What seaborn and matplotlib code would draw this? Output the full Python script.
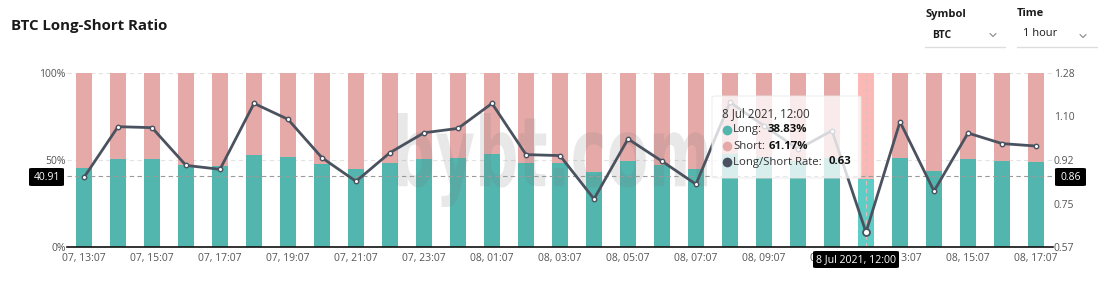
import numpy as np
import pandas as pd
import matplotlib
matplotlib.use("Agg")
import matplotlib.pyplot as plt
import seaborn as sns
from matplotlib.patches import FancyBboxPatch, PathPatch
from matplotlib.textpath import TextPath
from matplotlib.font_manager import FontProperties
from matplotlib.transforms import Affine2D
from matplotlib.lines import Line2D

# ---------------- data ----------------
time_labels = [
    "07, 13:07", "07, 14:07", "07, 15:07", "07, 16:07", "07, 17:07", "07, 18:07",
    "07, 19:07", "07, 20:07", "07, 21:07", "07, 22:07", "07, 23:07", "08, 00:07",
    "08, 01:07", "08, 02:07", "08, 03:07", "08, 04:07", "08, 05:07", "08, 06:07",
    "08, 07:07", "08, 08:07", "08, 09:07", "08, 10:07", "08, 11:07", "08, 12:07",
    "08, 13:07", "08, 14:07", "08, 15:07", "08, 16:07", "08, 17:07",
]
long_pct = [45.6, 50.8, 50.8, 46.9, 46.5, 53.0, 51.7, 47.9, 45.0, 48.5,
            50.4, 51.0, 53.3, 48.5, 48.1, 42.9, 49.6, 47.1, 44.7, 53.5,
            51.5, 49.2, 51.0, 38.83, 51.3, 43.9, 50.4, 49.4, 49.0]
short_pct = [round(100 - v, 2) for v in long_pct]
ls_ratio = [0.854, 1.061, 1.057, 0.903, 0.887, 1.156, 1.091, 0.934, 0.838, 0.955,
            1.036, 1.054, 1.156, 0.947, 0.943, 0.766, 1.011, 0.920, 0.826, 1.160,
            1.065, 0.969, 1.045, 0.63, 1.081, 0.798, 1.035, 0.992, 0.982]
left_ticks = [0, 50, 100]
left_tick_labels = ["0%", "50%", "100%"]
right_tick_labels = ["0.57", "0.75", "0.92", "1.10", "1.28"]
right_lim = (0.57, 1.28)
hover_idx = 23
hover_date = "8 Jul 2021, 12:00"
cross_left = "40.91"
cross_right = "0.86"
cross_level = 40.91

df = pd.DataFrame({"time": time_labels, "long": long_pct, "short": short_pct,
                   "ratio": ls_ratio})
df["total"] = df["long"] + df["short"]
n = len(df)

# ---------------- style ----------------
sns.set_theme(style="white")
FAM = ["Open Sans", "DejaVu Sans"]
plt.rcParams["font.family"] = FAM

TEAL = "#52b6ae"
PINK = "#e5a9a8"
TEAL_H = "#5ecdc5"
PINK_H = "#fbb8b5"
LINE = "#4b525f"
TICK = "#555555"

W, H = 1119, 301
fig = plt.figure(figsize=(W / 100, H / 100), dpi=100)
fig.patch.set_facecolor("white")

def fx(x):
    return x / W

def fy(y):
    return 1 - y / H

ax_l, ax_r, ax_t, ax_b = 67, 1053, 73, 247
ax = fig.add_axes([fx(ax_l), fy(ax_b), (ax_r - ax_l) / W, (ax_b - ax_t) / H])

for g in [50, 100]:
    ax.axhline(g, color="#e2e2e2", lw=0.8, ls=(0, (4, 3)), zorder=0)

sns.barplot(data=df, x="time", y="total", color=PINK, saturation=1,
            width=0.47, linewidth=0, ax=ax, zorder=1)
sns.barplot(data=df, x="time", y="long", color=TEAL, saturation=1,
            width=0.47, linewidth=0, ax=ax, zorder=1)
patches = ax.patches
patches[hover_idx].set_facecolor(PINK_H)
patches[n + hover_idx].set_facecolor(TEAL_H)

ax.set_xlim(-0.5, n - 0.5)
ax.set_ylim(0, 100)
ax.set_xlabel("")
ax.set_ylabel("")
ax.set_yticks(left_ticks)
ax.set_yticklabels(left_tick_labels)
ax.set_xticks(range(0, n, 2))
ax.set_xticklabels([time_labels[i] for i in range(0, n, 2)])
ax.tick_params(axis="both", length=0, labelsize=7.5, labelcolor=TICK)
ax.tick_params(axis="y", pad=1)
ax.tick_params(axis="x", pad=4.5)
for s in ["top", "right", "left"]:
    ax.spines[s].set_visible(False)
ax.spines["bottom"].set_color("#111111")
ax.spines["bottom"].set_linewidth(1.2)

ax.axhline(cross_level, color="#9a9a9a", lw=0.8, ls=(0, (4, 3)), zorder=3)
ax.axvline(hover_idx, color="#e0bcbc", lw=0.8, ls=(0, (4, 3)), zorder=1.5)

# watermark
fp = FontProperties(family="DejaVu Sans", weight="bold")
tp = TextPath((0, 0), "bybt.com", size=1, prop=fp)
bb = tp.get_extents()
wx0, wx1, wy_top, wy_bot = 397, 707, 113, 207
sx = (wx1 - wx0) / bb.width
sy = (wy_bot - wy_top) / bb.height
trans = (Affine2D().translate(-bb.x0, -bb.y0).scale(sx, sy)
         .translate(wx0, H - wy_bot).scale(1 / W, 1 / H) + fig.transFigure)
wm = PathPatch(tp, transform=trans, facecolor="#7a7a7a", edgecolor="none",
               alpha=0.17, zorder=2)
wm.set_clip_on(False)
ax.add_artist(wm)

# ratio line
ax2 = ax.twinx()
sns.lineplot(x=np.arange(n), y=df["ratio"].values, ax=ax2, color=LINE, lw=2,
             marker="o", markersize=3.2, markerfacecolor="white",
             markeredgecolor=LINE, markeredgewidth=1.0)
ax2.plot([hover_idx], [ls_ratio[hover_idx]], "o", ms=5, mfc="white",
         mec=LINE, mew=1.3)
ax2.set_xlim(-0.5, n - 0.5)
ax2.set_ylim(*right_lim)
ax2.set_yticks(np.linspace(right_lim[0], right_lim[1], len(right_tick_labels)))
ax2.set_yticklabels(right_tick_labels)
ax2.tick_params(axis="y", length=0, labelsize=7.5, labelcolor=TICK, pad=0.5)
ax2.set_ylabel("")
for s in ["top", "right", "left", "bottom"]:
    ax2.spines[s].set_visible(False)
ax2.grid(False)
ax.grid(False)

# ---------------- figure-level decorations ----------------
fig.text(fx(11), fy(26), "BTC Long-Short Ratio", fontsize=10.8, fontweight="bold",
         color="#1a1a1a", ha="left", va="center")

fig.text(fx(926), fy(14), "Symbol", fontsize=8, fontweight="bold", color="#1a1a1a",
         ha="left", va="center")
fig.text(fx(932), fy(36), "BTC", fontsize=7.5, fontweight="bold", color="#1a1a1a",
         ha="left", va="center")
fig.text(fx(1017), fy(14), "Time", fontsize=8, fontweight="bold", color="#1a1a1a",
         ha="left", va="center")
fig.text(fx(1023), fy(34), "1 hour", fontsize=8, color="#1a1a1a",
         ha="left", va="center")
for cx, cy in [(993, 35), (1083, 36)]:
    fig.add_artist(Line2D([fx(cx - 3), fx(cx), fx(cx + 3)],
                          [fy(cy - 1.5), fy(cy + 1.5), fy(cy - 1.5)],
                          color="#888888", lw=0.8))
for x0, x1 in [(925, 1005), (1017, 1097)]:
    fig.add_artist(Line2D([fx(x0), fx(x1)], [fy(47), fy(47)], color="#dddddd", lw=1))

def black_label(x0, x1, y0, y1, text, size=7.5):
    fig.add_artist(FancyBboxPatch((fx(x0), fy(y1)), fx(x1) - fx(x0), fy(y0) - fy(y1),
                                  boxstyle="round,pad=0,rounding_size=0.003",
                                  facecolor="black", edgecolor="none", zorder=6))
    fig.text(fx((x0 + x1) / 2), fy((y0 + y1) / 2), text, color="white", fontsize=size,
             ha="center", va="center", zorder=7)

black_label(29, 64, 168, 186, cross_left)
black_label(1055, 1086, 168, 186, cross_right)
black_label(813, 899, 251, 268, hover_date, size=7.6)

# tooltip
tip = FancyBboxPatch((fx(712), fy(178)), fx(861) - fx(712), fy(96) - fy(178),
                     boxstyle="round,pad=0,rounding_size=0.004",
                     facecolor="white", edgecolor="#e8e8e8", lw=0.8, alpha=0.78,
                     zorder=5)
fig.add_artist(tip)
fig.text(fx(722), fy(114), hover_date, fontsize=8.3, color="#333333",
         ha="left", va="center", zorder=7)
rows = [
    (130, TEAL, "Long:", f"{long_pct[hover_idx]:.2f}%", 768),
    (146, PINK, "Short:", f"{short_pct[hover_idx]:.2f}%", 769),
    (162, LINE, "Long/Short Rate:", f"{ls_ratio[hover_idx]:.2f}", 829),
]
for y, c, lab, val, vx in rows:
    fig.add_artist(Line2D([fx(727)], [fy(y)], marker="o", markersize=7,
                          markerfacecolor=c, markeredgecolor="none",
                          linestyle="none", zorder=7))
    fig.text(fx(733), fy(y), lab, fontsize=8.2, color="#333333", ha="left",
             va="center", zorder=7)
    fig.text(fx(vx), fy(y), val, fontsize=8.2, fontweight="bold", color="#111111",
             ha="left", va="center", zorder=7)

fig.savefig("out.png", dpi=100, facecolor="white")
